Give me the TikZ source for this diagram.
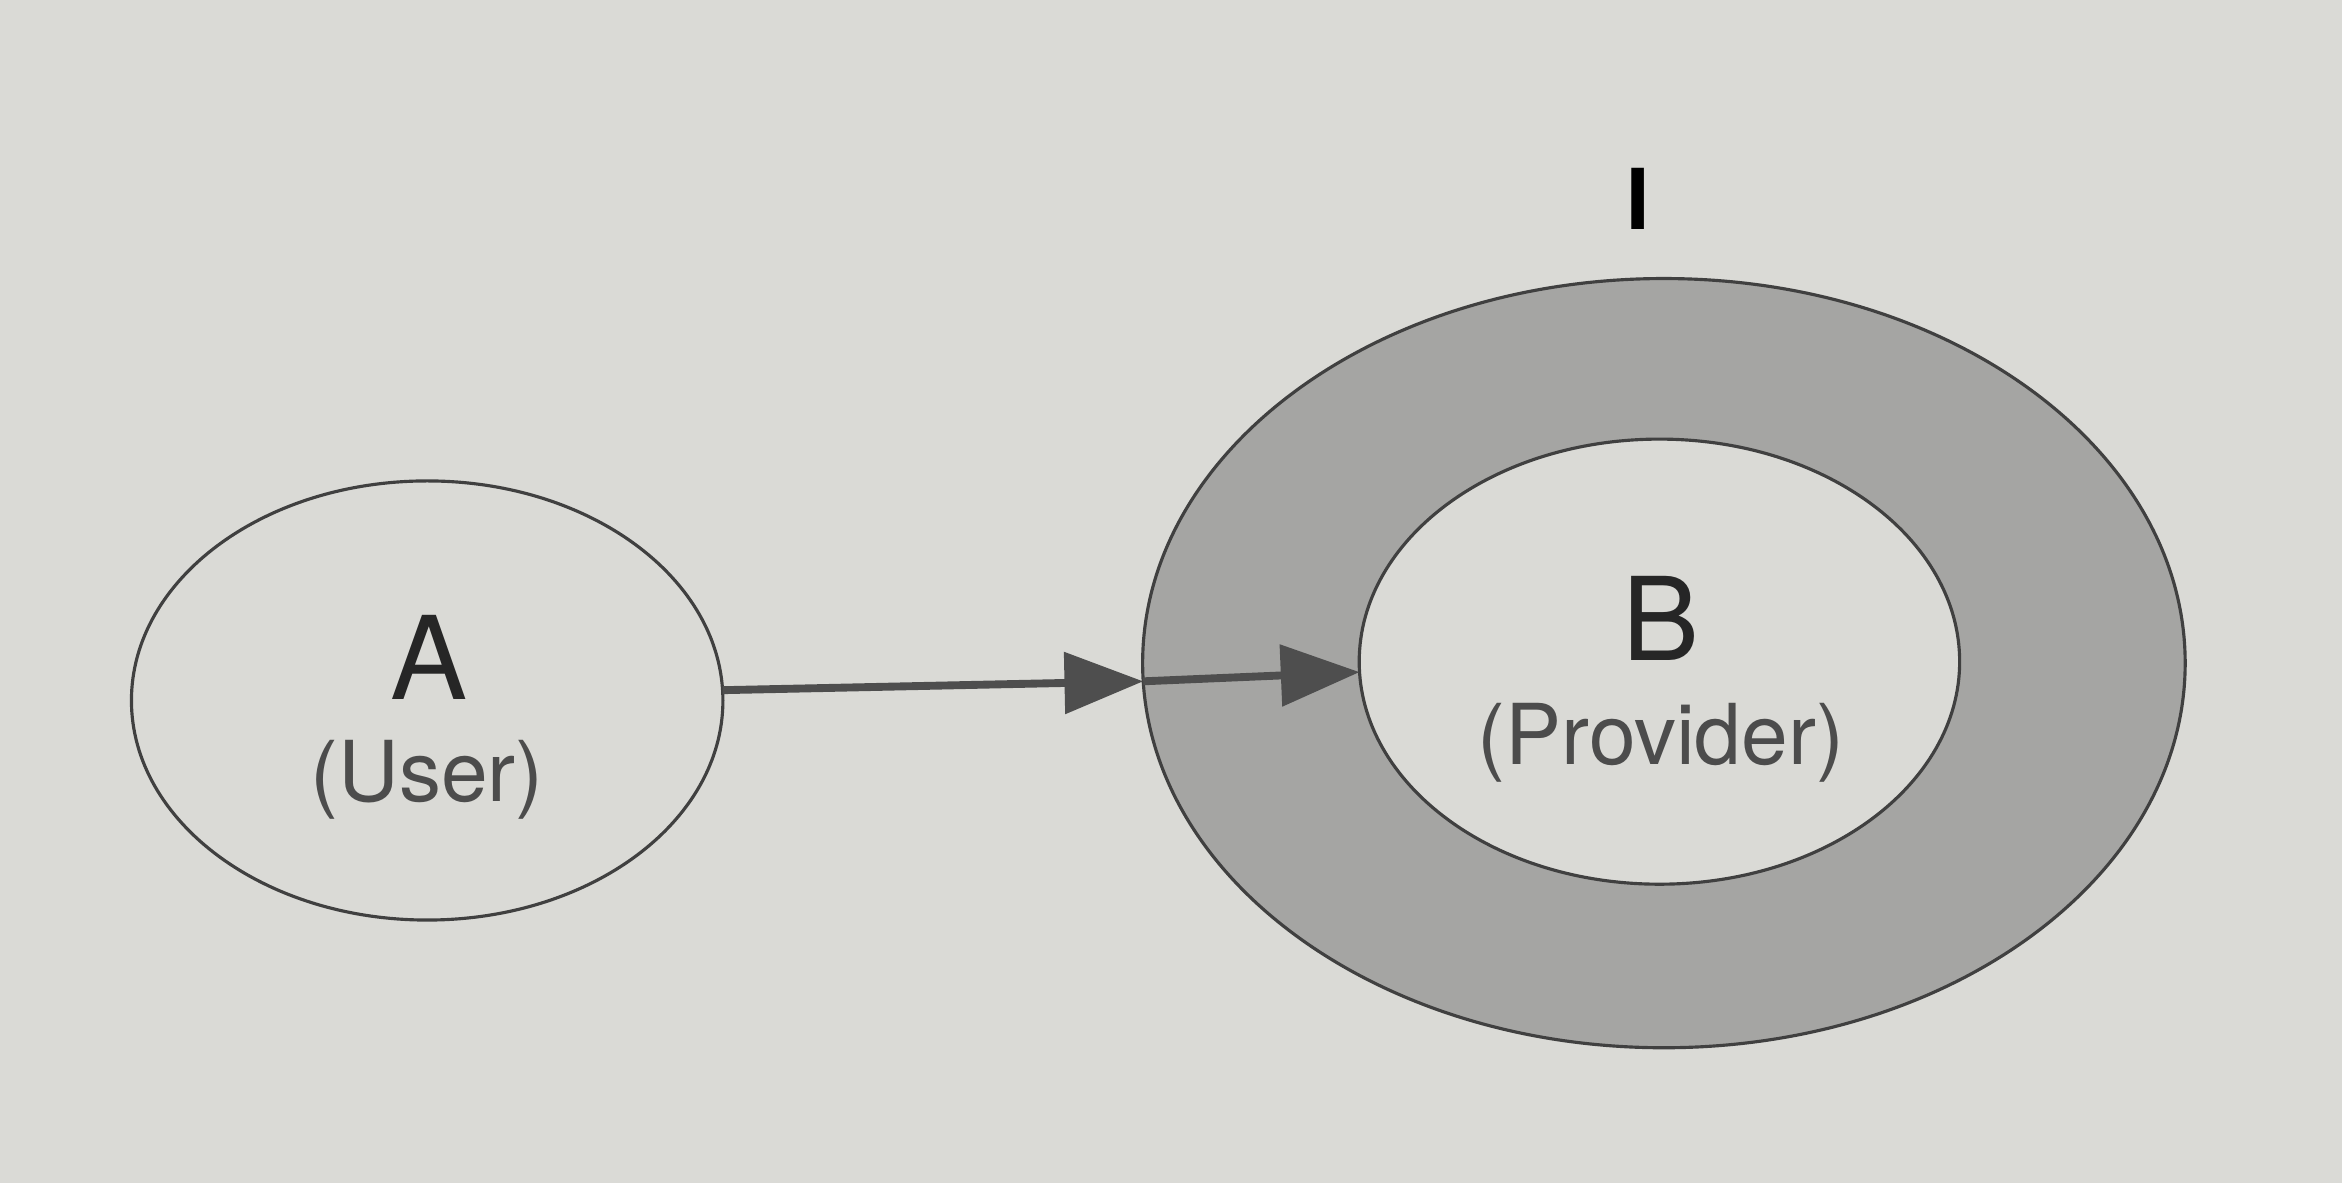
\documentclass[tikz,border=0pt]{standalone}
\usepackage{fontspec}
\setmainfont{TeX Gyre Heros}
\usetikzlibrary{calc}
\usetikzlibrary{shapes,arrows.meta,positioning}
\definecolor{paper}{RGB}{218,218,214}
\definecolor{ring}{RGB}{165,165,163}
\definecolor{arrowgray}{RGB}{78,78,78}

\begin{document}
\begin{tikzpicture}[
     oval/.style = {draw=black!75, ellipse, line width=0.6pt, inner sep=0pt, outer sep=0pt},
     letter/.style = {font=\fontsize{22}{26}\selectfont, text=black!85},
     role/.style = {font=\fontsize{16}{20}\selectfont, text=black!70},
     arrow/.style = {draw=arrowgray, line width=1.5pt, -{Triangle[length=15pt,width=11.5pt]}}
    ]
    \fill[paper] (0,0) rectangle (15.68,7.92);
    \useasboundingbox (0,0) rectangle (15.68,7.92);

    \node [oval, fill=paper, minimum width=3.96cm, minimum height=2.94cm] (user) at (2.86,3.23) {};
    \node [oval, fill=ring, minimum width=6.98cm, minimum height=5.15cm] (iface) at (11.14,3.48) {};
    \node [oval, fill=paper, minimum width=4.02cm, minimum height=2.98cm] (provider) at (11.11,3.49) {};

    \node [letter] (ua) at (2.87,3.52) {A};
    \node [role] (un) at (2.86,2.70) {(User)};
    \node [letter] (pb) at (11.12,3.78) {B};
    \node [role] (pn) at (11.12,2.95) {(Provider)};
    \node [font=\fontsize{16}{20}\selectfont\bfseries] (ilabel) at (10.97,6.59) {I};

    \draw[arrow] (user.2) -- (iface.182);
    \draw[arrow] (iface.182) -- (provider.182);
\end{tikzpicture}
\end{document}
